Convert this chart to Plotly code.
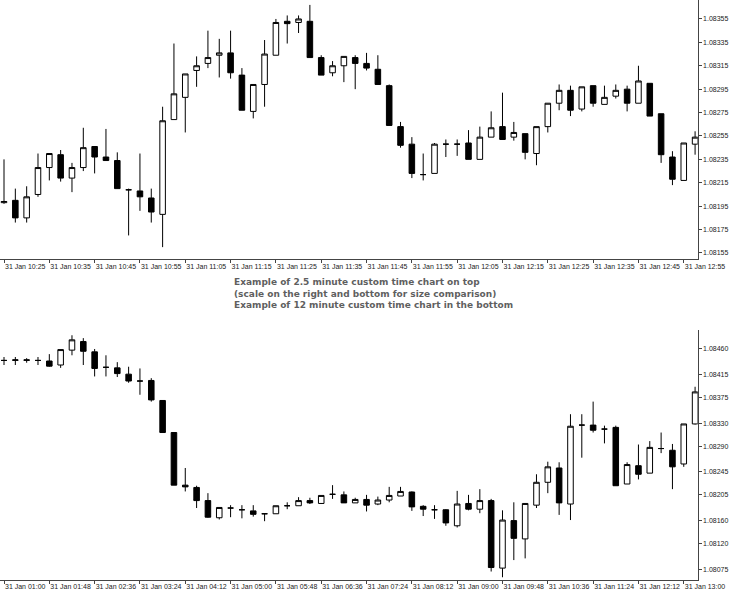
import pandas as pd
import plotly.graph_objects as go

# ---------------- Top chart: 2.5 minute candles ----------------
top_start = "2024-01-31 10:25:00"
top_period_s = 150
top_open = [1.08198, 1.08200, 1.08185, 1.08205, 1.08228, 1.08239, 1.08219, 1.08228, 1.08246, 1.08237,
            1.08234, 1.08209, 1.08208, 1.08202, 1.08188, 1.08269, 1.08288, 1.08311, 1.08317, 1.08324,
            1.08326, 1.08307, 1.08276, 1.08299, 1.08324, 1.08353, 1.08352, 1.08353, 1.08322, 1.08309,
            1.08315, 1.08322, 1.08317, 1.08312, 1.08298, 1.08263, 1.08248, 1.08222, 1.08223, 1.08248,
            1.08248, 1.08249, 1.08235, 1.08254, 1.08263, 1.08254, 1.08257, 1.08240, 1.08263, 1.08283,
            1.08294, 1.08278, 1.08298, 1.08282, 1.08289, 1.08295, 1.08283, 1.08300, 1.08274, 1.08237,
            1.08217, 1.08248]
top_high = [1.08235, 1.08210, 1.08212, 1.08240, 1.08240, 1.08243, 1.08232, 1.08262, 1.08246, 1.08261,
            1.08241, 1.08210, 1.08240, 1.08210, 1.08280, 1.08334, 1.08308, 1.08323, 1.08345, 1.08338,
            1.08345, 1.08313, 1.08299, 1.08337, 1.08355, 1.08358, 1.08358, 1.08367, 1.08324, 1.08319,
            1.08323, 1.08324, 1.08326, 1.08324, 1.08299, 1.08267, 1.08254, 1.08240, 1.08249, 1.08252,
            1.08252, 1.08260, 1.08263, 1.08276, 1.08292, 1.08267, 1.08257, 1.08263, 1.08283, 1.08299,
            1.08298, 1.08297, 1.08298, 1.08298, 1.08299, 1.08298, 1.08315, 1.08300, 1.08274, 1.08242,
            1.08249, 1.08259]
top_low = [1.08197, 1.08181, 1.08181, 1.08203, 1.08217, 1.08216, 1.08207, 1.08225, 1.08223, 1.08234,
           1.08210, 1.08170, 1.08191, 1.08181, 1.08160, 1.08269, 1.08258, 1.08297, 1.08313, 1.08305,
           1.08304, 1.08277, 1.08270, 1.08280, 1.08324, 1.08334, 1.08343, 1.08322, 1.08307, 1.08306,
           1.08301, 1.08295, 1.08311, 1.08299, 1.08264, 1.08245, 1.08219, 1.08217, 1.08223, 1.08237,
           1.08238, 1.08235, 1.08235, 1.08254, 1.08252, 1.08251, 1.08235, 1.08230, 1.08258, 1.08277,
           1.08272, 1.08276, 1.08280, 1.08282, 1.08287, 1.08276, 1.08283, 1.08272, 1.08232, 1.08213,
           1.08217, 1.08239]
top_close = [1.08199, 1.08185, 1.08203, 1.08228, 1.08240, 1.08219, 1.08228, 1.08245, 1.08237, 1.08234,
             1.08210, 1.08209, 1.08203, 1.08190, 1.08268, 1.08291, 1.08308, 1.08315, 1.08322, 1.08326,
             1.08309, 1.08277, 1.08299, 1.08325, 1.08352, 1.08351, 1.08355, 1.08322, 1.08307, 1.08315,
             1.08323, 1.08317, 1.08313, 1.08299, 1.08264, 1.08247, 1.08223, 1.08222, 1.08248, 1.08248,
             1.08248, 1.08235, 1.08254, 1.08262, 1.08252, 1.08258, 1.08241, 1.08263, 1.08283, 1.08294,
             1.08277, 1.08297, 1.08283, 1.08288, 1.08294, 1.08283, 1.08302, 1.08272, 1.08239, 1.08218,
             1.08249, 1.08254]
top_yticks = [1.08155, 1.08175, 1.08195, 1.08215, 1.08235, 1.08255, 1.08275, 1.08295, 1.08315, 1.08335, 1.08355]

# ---------------- Bottom chart: 12 minute candles ----------------
bot_start = "2024-01-31 01:00:00"
bot_period_s = 720
bot_open = [1.08440, 1.08440, 1.08440, 1.08440, 1.08439, 1.08432, 1.08458, 1.08473, 1.08455, 1.08428,
            1.08427, 1.08416, 1.08404, 1.08405, 1.08370, 1.08314, 1.08222, 1.08218, 1.08195, 1.08165,
            1.08182, 1.08179, 1.08177, 1.08172, 1.08172, 1.08186, 1.08186, 1.08195, 1.08190, 1.08206,
            1.08205, 1.08191, 1.08197, 1.08189, 1.08196, 1.08203, 1.08210, 1.08185, 1.08179, 1.08179,
            1.08151, 1.08190, 1.08180, 1.08195, 1.08077, 1.08160, 1.08128, 1.08187, 1.08227, 1.08252,
            1.08189, 1.08327, 1.08327, 1.08320, 1.08323, 1.08224, 1.08256, 1.08243, 1.08286, 1.08283,
            1.08259, 1.08329]
bot_high = [1.08446, 1.08446, 1.08444, 1.08446, 1.08451, 1.08459, 1.08484, 1.08479, 1.08460, 1.08449,
            1.08437, 1.08429, 1.08426, 1.08409, 1.08370, 1.08314, 1.08252, 1.08221, 1.08208, 1.08183,
            1.08187, 1.08187, 1.08187, 1.08172, 1.08186, 1.08192, 1.08201, 1.08200, 1.08204, 1.08222,
            1.08211, 1.08200, 1.08205, 1.08202, 1.08219, 1.08219, 1.08211, 1.08187, 1.08187, 1.08180,
            1.08212, 1.08205, 1.08215, 1.08198, 1.08178, 1.08192, 1.08190, 1.08241, 1.08263, 1.08262,
            1.08346, 1.08346, 1.08368, 1.08326, 1.08326, 1.08262, 1.08293, 1.08299, 1.08314, 1.08294,
            1.08329, 1.08394]
bot_low = [1.08432, 1.08432, 1.08436, 1.08432, 1.08429, 1.08427, 1.08449, 1.08432, 1.08412, 1.08412,
           1.08411, 1.08401, 1.08380, 1.08368, 1.08314, 1.08222, 1.08211, 1.08182, 1.08165, 1.08162,
           1.08166, 1.08164, 1.08167, 1.08159, 1.08172, 1.08180, 1.08186, 1.08189, 1.08189, 1.08198,
           1.08191, 1.08191, 1.08176, 1.08187, 1.08192, 1.08203, 1.08177, 1.08168, 1.08163, 1.08151,
           1.08148, 1.08178, 1.08173, 1.08071, 1.08061, 1.08091, 1.08094, 1.08182, 1.08208, 1.08170,
           1.08161, 1.08270, 1.08314, 1.08295, 1.08221, 1.08224, 1.08232, 1.08243, 1.08278, 1.08215,
           1.08254, 1.08328]
bot_close = [1.08440, 1.08441, 1.08441, 1.08440, 1.08430, 1.08459, 1.08476, 1.08456, 1.08426, 1.08428,
             1.08417, 1.08404, 1.08404, 1.08371, 1.08314, 1.08222, 1.08219, 1.08195, 1.08166, 1.08183,
             1.08182, 1.08179, 1.08171, 1.08172, 1.08186, 1.08186, 1.08195, 1.08191, 1.08204, 1.08206,
             1.08191, 1.08197, 1.08187, 1.08196, 1.08204, 1.08211, 1.08184, 1.08180, 1.08179, 1.08156,
             1.08189, 1.08180, 1.08195, 1.08078, 1.08161, 1.08129, 1.08190, 1.08227, 1.08254, 1.08191,
             1.08325, 1.08327, 1.08318, 1.08320, 1.08221, 1.08258, 1.08241, 1.08288, 1.08286, 1.08254,
             1.08329, 1.08385]
bot_yticks = [1.08075, 1.08120, 1.08160, 1.08205, 1.08245, 1.08290, 1.08330, 1.08375, 1.08415, 1.08460]

caption_lines = [
    "Example of 2.5 minute custom time chart on top",
    "(scale on the right and bottom for size comparison)",
    "Example of 12 minute custom time chart in the bottom",
]

# ---------------- build ----------------
top_x = pd.date_range(top_start, periods=len(top_open), freq=f"{top_period_s}s")
bot_x = pd.date_range(bot_start, periods=len(bot_open), freq=f"{bot_period_s}s")


def candle(x, o, h, l, c, xa, ya):
    return go.Candlestick(
        x=x, open=o, high=h, low=l, close=c,
        xaxis=xa, yaxis=ya,
        increasing=dict(line=dict(color="#000000", width=1), fillcolor="#ffffff"),
        decreasing=dict(line=dict(color="#000000", width=1), fillcolor="#000000"),
        whiskerwidth=0, showlegend=False, hoverinfo="skip",
    )


fig = go.Figure()
fig.add_trace(candle(top_x, top_open, top_high, top_low, top_close, "x", "y"))
fig.add_trace(candle(bot_x, bot_open, bot_high, bot_low, bot_close, "x2", "y2"))

tickfont = dict(family="Liberation Sans, Arial, sans-serif", size=7, color="#222222")
xdom = [0, 697.7 / 732]


def xrange(start, n_left, n_right, period_s):
    s = pd.Timestamp(start)
    return [s - pd.Timedelta(seconds=n_left * period_s), s + pd.Timedelta(seconds=n_right * period_s)]


common_x = dict(
    type="date", tickformat="%d %b %H:%M", showgrid=False, zeroline=False,
    showline=True, linecolor="#444444", linewidth=1,
    ticks="outside", ticklen=3, tickcolor="#444444", tickangle=0,
    ticklabelposition="outside right", tickfont=tickfont, automargin=False,
    rangeslider=dict(visible=False), fixedrange=True,
)
common_y = dict(
    side="right", showgrid=False, zeroline=False, showline=True,
    linecolor="#444444", linewidth=1, ticks="outside", ticklen=3,
    tickcolor="#444444", tickformat=".5f", tickfont=tickfont, fixedrange=True,
    automargin=False,
)

fig.update_layout(
    width=732, height=600,
    margin=dict(l=0, r=0, t=0, b=0, autoexpand=False),
    paper_bgcolor="#ffffff", plot_bgcolor="#ffffff",
    xaxis=dict(common_x, domain=xdom, anchor="y",
               range=xrange(top_start, 0.353, 61.23, top_period_s),
               tick0=top_start, dtick=10 * 60 * 1000),
    yaxis=dict(common_y, domain=[1 - 259.3 / 600, 1], anchor="x",
               range=[1.081496, 1.083712], tickvals=top_yticks),
    xaxis2=dict(common_x, domain=xdom, anchor="y2",
                range=xrange(bot_start, 0.353, 61.23, bot_period_s),
                tick0=bot_start, dtick=48 * 60 * 1000),
    yaxis2=dict(common_y, domain=[1 - 580 / 600, 1 - 330 / 600], anchor="x2",
                range=[1.080562, 1.084932], tickvals=bot_yticks),
    annotations=[dict(
        x=232 / 732, y=1 - 293.5 / 600, xref="paper", yref="paper",
        xanchor="left", yanchor="middle", align="left", showarrow=False,
        text="<br>".join(f"<b>{t}</b>" for t in caption_lines),
        font=dict(family="DejaVu Sans, Verdana, sans-serif", size=9, color="#5f5f5f"),
    )],
)

fig.write_html(
    "out.html",
    config={"displayModeBar": False, "staticPlot": True},
    post_script="document.body.style.margin='0';document.body.style.overflow='hidden';",
)
